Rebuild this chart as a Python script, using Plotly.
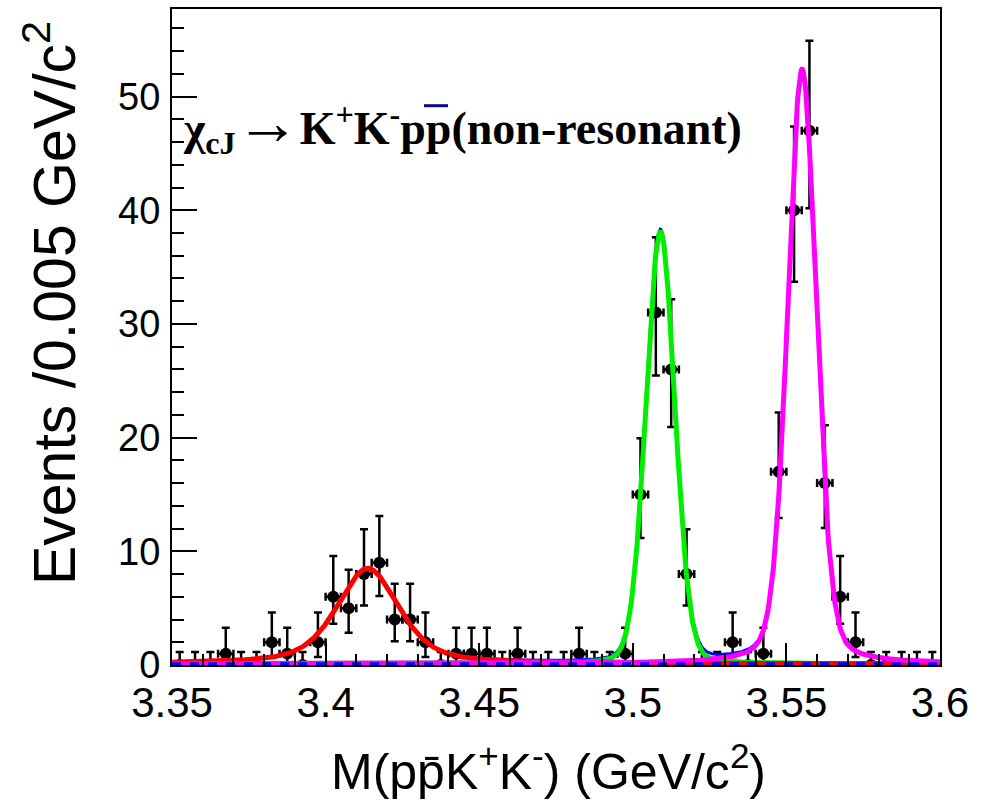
import numpy as np
import plotly.graph_objects as go

# ---------------- data ----------------
bin_width = 0.005
x_lo, x_hi = 3.35, 3.60
counts = [0, 0, 0, 1, 0, 0, 2, 1, 0, 2,
          6, 5, 8, 9, 4, 4, 2, 0, 1, 1,
          1, 0, 1, 0, 0, 0, 1, 0, 0, 1,
          15, 31, 26, 8, 0, 0, 2, 0, 1, 17,
          40, 47, 16, 6, 2, 0, 0, 0, 0, 0]

# fit components (peak height [events/bin], mean, natural width, resolution)
comp_names = ["chi_c0", "chi_c1", "chi_c2"]
comp_height = [8.4, 38.0, 52.3]
comp_mean = [3.4137, 3.5090, 3.5551]
comp_gamma = [0.0105, 0.00084, 0.00197]
comp_sigma = [0.0075, 0.0045, 0.0042]
comp_color = ["#ff0000", "#00ee00", "#ff00ff"]
background_level = 0.1

x_ticks = [3.35, 3.40, 3.45, 3.50, 3.55, 3.60]
x_tick_text = ["3.35", "3.4", "3.45", "3.5", "3.55", "3.6"]
y_ticks = [0, 10, 20, 30, 40, 50]
y_range = [0, 57.7]

# ---------------- derived ----------------
n = np.array(counts, dtype=float)
centers = x_lo + bin_width * (np.arange(len(counts)) + 0.5)

def poisson_interval(k):
    if k == 0:
        return 0.0, 1.147
    lo = k * (1 - 1 / (9 * k) - 1 / (3 * np.sqrt(k))) ** 3
    k1 = k + 1
    hi = k1 * (1 - 1 / (9 * k1) + 1 / (3 * np.sqrt(k1))) ** 3
    return lo, hi

err_lo, err_hi = [], []
for k in n:
    lo, hi = poisson_interval(k)
    err_lo.append(k - lo)
    err_hi.append(hi - k)

def pseudo_voigt(x, mean, gamma, sigma):
    fg = 2.3548 * sigma
    fl = gamma
    f = (fg**5 + 2.69269 * fg**4 * fl + 2.42843 * fg**3 * fl**2 +
         4.47163 * fg**2 * fl**3 + 0.07842 * fg * fl**4 + fl**5) ** 0.2
    r = fl / f
    eta = 1.36603 * r - 0.47719 * r**2 + 0.11116 * r**3
    d = x - mean
    L = 1.0 / (1.0 + (2 * d / f) ** 2)
    G = np.exp(-4 * np.log(2) * d**2 / f**2)
    return eta * L + (1 - eta) * G

xf = np.linspace(x_lo, x_hi, 1201)
comps = [h * pseudo_voigt(xf, m, g, s)
         for h, m, g, s in zip(comp_height, comp_mean, comp_gamma, comp_sigma)]
bg = np.full_like(xf, background_level)
total = bg + sum(comps)

# ---------------- figure ----------------
fig = go.Figure()

fig.add_trace(go.Scatter(
    x=centers, y=n, mode="markers",
    marker=dict(color="black", size=12, symbol="circle"),
    error_y=dict(type="data", symmetric=False, array=err_hi, arrayminus=err_lo,
                 color="black", thickness=2.5, width=4),
    error_x=dict(type="constant", value=bin_width / 2, color="black",
                 thickness=2.5, width=4),
    showlegend=False))

fig.add_trace(go.Scatter(x=xf, y=total, mode="lines",
                         line=dict(color="#0000ff", width=3), showlegend=False))
for yc, col in [(comps[1], comp_color[1]), (comps[0], comp_color[0]),
                (comps[2], comp_color[2])]:
    fig.add_trace(go.Scatter(x=xf, y=yc + background_level, mode="lines",
                             line=dict(color=col, width=5), showlegend=False))
fig.add_trace(go.Scatter(x=xf, y=bg, mode="lines",
                         line=dict(color="#0000ff", width=3, dash="dash"),
                         showlegend=False))

L, R, T, B = 172, 43, 7, 140
W, H = 983, 805
pw, ph = W - L - R, H - T - B

def px_x(p):
    return (p - L) / pw

def px_y(p):
    return (H - B - p) / ph

fig.update_layout(
    width=W, height=H,
    margin=dict(l=L, r=R, t=T, b=B),
    paper_bgcolor="white", plot_bgcolor="white",
    font=dict(family="Liberation Sans, Arial, sans-serif", color="black"),
    xaxis=dict(range=[x_lo, x_hi], tickvals=x_ticks, ticktext=x_tick_text,
               ticks="inside", ticklen=22, tickwidth=2, tickcolor="black",
               minor=dict(ticks="inside", dtick=0.01, ticklen=11, tickwidth=2,
                          tickcolor="black", showgrid=False),
               showline=True, linecolor="black", linewidth=2, mirror=True,
               showgrid=False, zeroline=False,
               tickfont=dict(size=42, family="Liberation Sans, Arial, sans-serif"),
               ticklabelstandoff=0),
    yaxis=dict(range=y_range, tickvals=y_ticks,
               ticks="inside", ticklen=25, tickwidth=2, tickcolor="black",
               minor=dict(ticks="inside", dtick=2, ticklen=12, tickwidth=2,
                          tickcolor="black", showgrid=False),
               showline=True, linecolor="black", linewidth=2, mirror=True,
               showgrid=False, zeroline=False,
               tickfont=dict(size=38, family="Liberation Sans, Arial, sans-serif"),
               ticklabelstandoff=2),
)

fig.add_annotation(
    xref="paper", yref="paper", x=px_x(181), y=px_y(122),
    xanchor="left", yanchor="middle", showarrow=False,
    text=("<b>χ<sub>cJ</sub><span style='font-size:64px'>→</span>"
          "K<sup>+</sup>K<sup>-</sup>pp(non-resonant)</b>"),
    font=dict(family="Liberation Serif, Times New Roman, serif", size=46,
              color="black"))
fig.add_shape(type="line", xref="paper", yref="paper",
              x0=px_x(424), x1=px_x(448), y0=px_y(104), y1=px_y(104),
              line=dict(color="#0a0a78", width=3))

fig.add_annotation(
    xref="paper", yref="paper", x=px_x(548), y=px_y(768),
    xanchor="center", yanchor="middle", showarrow=False,
    text="M(pp\u0304K<sup>+</sup>K<sup>-</sup>) (GeV/c<sup>2</sup>)",
    font=dict(size=50, color="black"))

fig.add_annotation(
    xref="paper", yref="paper", x=px_x(50), y=px_y(302),
    xanchor="center", yanchor="middle", showarrow=False, textangle=-90,
    text="Events /0.005 GeV/c<sup>2</sup>",
    font=dict(size=59, color="black"))

fig.write_html("out.html")
